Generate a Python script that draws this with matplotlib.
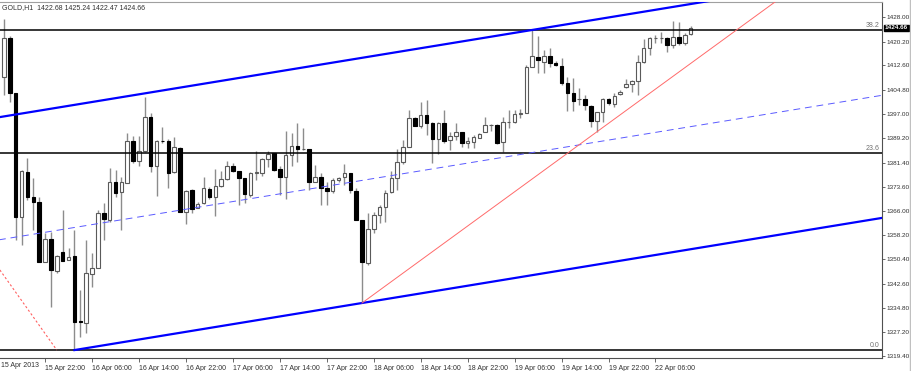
import matplotlib.pyplot as plt
from matplotlib.patches import Rectangle
from matplotlib.lines import Line2D

# GOLD H1 bars, 15 Apr 2013 15:00 .. 22 Apr 2013
opens = [1408.9, 1421.4, 1403.8, 1364.0, 1378.4, 1370.4, 1368.8, 1349.6, 1356.9, 1346.7,
         1352.7, 1350.2, 1351.4, 1330.6, 1329.9, 1345.7, 1347.6, 1365.3, 1363.0, 1375.2,
         1372.0, 1374.9, 1388.4, 1381.9, 1385.2, 1396.1, 1380.4, 1388.4, 1388.4, 1378.4,
         1386.1, 1365.6, 1372.7, 1366.9, 1368.5, 1373.0, 1370.4, 1373.9, 1376.2, 1380.4,
         1378.8, 1376.5, 1371.1, 1378.1, 1378.1, 1382.6, 1384.5, 1379.4, 1376.8, 1383.9,
         1386.8, 1385.8, 1385.8, 1375.2, 1376.8, 1373.3, 1372.3, 1375.9, 1376.8, 1378.1,
         1372.3, 1363.0, 1349.2, 1360.1, 1364.6, 1367.2, 1372.0, 1376.5, 1381.6, 1386.5,
         1395.8, 1393.2, 1396.7, 1394.2, 1389.0, 1394.2, 1388.7, 1390.0, 1391.3, 1387.7,
         1388.1, 1389.3, 1391.3, 1393.5, 1393.5, 1388.1, 1394.5, 1394.5, 1397.0, 1397.4,
         1412.1, 1415.3, 1413.7, 1415.6, 1413.4, 1412.4, 1407.0, 1403.8, 1401.9, 1401.9,
         1399.6, 1394.8, 1397.7, 1401.9, 1400.2, 1403.5, 1405.7, 1406.7, 1407.6, 1413.7,
         1418.2, 1421.4, 1421.4, 1421.4, 1419.2, 1421.7, 1419.8, 1422.68]
highs = [1427.5, 1422.1, 1403.8, 1379.1, 1382.9, 1376.5, 1370.4, 1358.8, 1359.2, 1351.8,
         1366.2, 1354.0, 1359.8, 1340.6, 1356.6, 1352.4, 1366.2, 1368.5, 1379.7, 1379.1,
         1376.8, 1390.9, 1390.0, 1390.0, 1402.5, 1397.4, 1388.7, 1392.9, 1389.0, 1389.7,
         1386.5, 1372.7, 1373.0, 1368.8, 1376.8, 1373.6, 1379.4, 1378.8, 1381.9, 1381.3,
         1378.8, 1376.5, 1378.4, 1385.2, 1382.9, 1385.2, 1384.5, 1380.4, 1391.6, 1390.9,
         1394.2, 1392.5, 1385.8, 1380.7, 1378.1, 1375.2, 1376.5, 1376.8, 1381.0, 1378.1,
         1373.3, 1363.0, 1365.3, 1365.6, 1367.8, 1372.7, 1378.8, 1385.8, 1388.7, 1398.3,
         1396.1, 1400.9, 1401.5, 1394.5, 1394.5, 1398.3, 1391.3, 1394.2, 1391.3, 1389.7,
         1390.3, 1390.9, 1396.1, 1393.8, 1393.8, 1396.1, 1398.3, 1398.3, 1398.6, 1412.8,
         1424.0, 1422.1, 1417.6, 1418.2, 1414.0, 1415.0, 1408.9, 1408.6, 1405.4, 1403.1,
         1399.9, 1397.7, 1402.2, 1402.2, 1403.8, 1404.7, 1408.3, 1407.9, 1416.0, 1421.1,
         1421.7, 1422.4, 1423.3, 1421.7, 1426.9, 1426.6, 1423.0, 1425.24]
lows = [1403.1, 1400.9, 1356.6, 1355.0, 1369.5, 1359.8, 1349.6, 1349.6, 1335.1, 1346.0,
        1349.9, 1350.2, 1321.3, 1325.5, 1326.7, 1341.5, 1347.6, 1356.6, 1362.4, 1370.4,
        1359.8, 1374.9, 1381.3, 1380.4, 1384.9, 1378.4, 1370.7, 1387.7, 1373.3, 1378.1,
        1365.6, 1361.7, 1365.3, 1366.9, 1368.2, 1369.8, 1364.3, 1373.6, 1375.9, 1378.4,
        1367.8, 1368.5, 1370.4, 1375.9, 1377.2, 1380.0, 1378.8, 1371.1, 1369.8, 1380.4,
        1381.6, 1385.5, 1372.7, 1375.2, 1367.8, 1367.8, 1371.7, 1375.2, 1374.3, 1371.7,
        1363.0, 1336.4, 1348.6, 1358.8, 1362.1, 1362.4, 1371.7, 1372.7, 1381.0, 1386.5,
        1393.2, 1392.5, 1390.3, 1381.3, 1384.2, 1387.7, 1385.5, 1388.7, 1386.5, 1386.1,
        1386.1, 1389.3, 1391.3, 1391.6, 1387.4, 1384.9, 1392.5, 1394.2, 1395.8, 1397.4,
        1412.1, 1410.2, 1410.2, 1412.1, 1412.4, 1406.3, 1398.0, 1398.0, 1399.9, 1398.3,
        1392.9, 1391.3, 1394.5, 1399.9, 1399.3, 1403.1, 1405.4, 1404.1, 1403.1, 1413.4,
        1416.0, 1419.8, 1419.8, 1416.9, 1418.2, 1419.2, 1419.2, 1422.47]
closes = [1421.4, 1403.8, 1364.0, 1378.8, 1370.4, 1368.8, 1349.6, 1356.9, 1347.0, 1351.4,
          1349.9, 1351.1, 1330.3, 1330.3, 1346.0, 1347.6, 1365.3, 1363.4, 1375.2, 1371.7,
          1375.2, 1388.4, 1381.9, 1385.2, 1396.1, 1380.4, 1388.4, 1388.3, 1378.1, 1386.5,
          1365.6, 1372.3, 1366.6, 1368.2, 1373.3, 1370.4, 1373.9, 1376.2, 1380.4, 1378.8,
          1376.5, 1371.4, 1378.1, 1378.4, 1382.6, 1384.2, 1379.1, 1376.8, 1383.9, 1386.8,
          1385.8, 1385.9, 1375.2, 1376.8, 1373.3, 1372.3, 1375.9, 1376.5, 1378.1, 1372.7,
          1363.0, 1349.6, 1360.1, 1364.6, 1367.2, 1371.7, 1376.5, 1381.6, 1386.5, 1395.8,
          1393.2, 1396.7, 1394.2, 1389.0, 1394.2, 1388.4, 1390.0, 1391.3, 1387.7, 1388.4,
          1389.7, 1390.6, 1393.5, 1393.6, 1387.7, 1394.5, 1394.6, 1397.0, 1397.4, 1412.1,
          1415.6, 1414.4, 1415.6, 1413.4, 1412.8, 1407.0, 1403.8, 1401.2, 1402.0, 1399.9,
          1394.8, 1397.7, 1401.9, 1400.6, 1402.8, 1404.1, 1406.7, 1407.6, 1413.7, 1418.2,
          1421.4, 1421.5, 1421.4, 1419.2, 1421.7, 1419.8, 1422.4, 1424.66]

# time axis labels (every 8 bars)
date_labels = ["15 Apr 22:00", "16 Apr 06:00", "16 Apr 14:00", "16 Apr 22:00",
               "17 Apr 06:00", "17 Apr 14:00", "17 Apr 22:00", "18 Apr 06:00",
               "18 Apr 14:00", "18 Apr 22:00", "19 Apr 06:00", "19 Apr 14:00",
               "19 Apr 22:00", "22 Apr 06:00"]
first_label = "15 Apr 2013"
price_ticks = [1428.00, 1420.20, 1412.60, 1404.80, 1397.00, 1389.20, 1381.40,
               1373.60, 1366.00, 1358.20, 1350.40, 1342.60, 1334.80, 1327.20, 1319.40]

# fibo levels
fib_levels = [1424.0, 1384.5, 1321.3]
fib_names = ["38.2", "23.6", "0.0"]
fib_diag_x = [-0.7, 9.0]
fib_diag_y = [1347.0, 1321.3]

# channel anchors (bar index, price)
chan_a = (12, 1321.3)
chan_b = (61, 1336.4)
chan_top = (90, 1424.0)
# red trendline anchors
trend_a = (61, 1336.4)
trend_b = (101, 1391.3)

W, H = 912, 371
fig = plt.figure(figsize=(W / 100, H / 100), dpi=100)
ax = fig.add_axes([0, 1 - 358 / H, 882 / W, 356 / H])
font = 'Liberation Sans'

n = len(opens)
xs = list(range(n))
for i in xs:
    o, h, l, c = opens[i], highs[i], lows[i], closes[i]
    ax.vlines(i, l, h, color='#8c8c8c', lw=1, zorder=2)
    lo, hi = min(o, c), max(o, c)
    if c >= o:
        r = Rectangle((i - 0.3, lo), 0.6, hi - lo, facecolor='white',
                      edgecolor='#5a5a5a', lw=0.8, zorder=3)
    else:
        r = Rectangle((i - 0.3, lo), 0.6, hi - lo, facecolor='black',
                      edgecolor='black', lw=0.8, zorder=3)
    ax.add_patch(r)

x0, x1 = -0.68, 149.6
ax.set_xlim(x0, x1)
ax.set_ylim(1318.76, 1432.97)

# fibo lines
for lv, nm in zip(fib_levels, fib_names):
    ax.axhline(lv, color='black', lw=1.1, zorder=4)
    ax.text(x1 - 0.4, lv + 0.4, nm, ha='right', va='bottom', fontsize=5,
            color='#707070', family=font, zorder=5)
ax.plot(fib_diag_x, fib_diag_y, color='#ff6060', lw=0.8, ls=(0, (2, 2)), zorder=4)

# channel
slope = (chan_b[1] - chan_a[1]) / (chan_b[0] - chan_a[0])
def lower(x):
    return chan_a[1] + slope * (x - chan_a[0])
off = chan_top[1] - lower(chan_top[0])
ax.plot([chan_a[0], 200], [lower(chan_a[0]), lower(200)], color='#0000ff', lw=1.6, zorder=6)
ax.plot([-5, 200], [lower(-5) + off, lower(200) + off], color='#0000ff', lw=1.6, zorder=6)
ax.plot([-5, 200], [lower(-5) + off / 2, lower(200) + off / 2], color='#5a5aff',
        lw=0.7, ls=(0, (7, 5)), zorder=6)

# red trendline
ts = (trend_b[1] - trend_a[1]) / (trend_b[0] - trend_a[0])
ax.plot([trend_a[0], 200], [trend_a[1], trend_a[1] + ts * (200 - trend_a[0])],
        color='#ff6a6a', lw=0.7, zorder=6)

# axes styling
ax.spines['left'].set_visible(False)
ax.spines['top'].set_color('#a0a0a0')
ax.spines['right'].set_color('#505050')
ax.spines['bottom'].set_color('#505050')
ax.yaxis.tick_right()
ax.set_yticks(price_ticks)
ax.set_yticklabels(['%.2f' % v for v in price_ticks])
ax.tick_params(axis='y', length=2, width=0.6, color='#505050', pad=1,
               labelsize=4.6, labelcolor='#303030')
xt = [7 + 8 * k for k in range(len(date_labels))]
ax.set_xticks(xt)
ax.set_xticklabels(date_labels)
ax.tick_params(axis='x', length=3, width=0.6, color='#505050', pad=2,
               labelsize=5, labelcolor='#303030')
for lab in ax.get_xticklabels() + ax.get_yticklabels():
    lab.set_family(font)
for lab in ax.get_xticklabels():
    lab.set_horizontalalignment('left')
ax.text(-0.5, -0.012, first_label, transform=ax.get_xaxis_transform(), ha='left',
        va='top', fontsize=5, color='#303030', family=font, clip_on=False)

# current price box
ax.annotate('%.2f' % closes[-1], xy=(1.0, closes[-1]),
            xycoords=('axes fraction', 'data'), xytext=(2, 0),
            textcoords='offset points', ha='left', va='center', fontsize=4.6,
            color='white', family=font, fontweight='bold',
            bbox=dict(boxstyle='square,pad=0.12', fc='black', ec='black'))

# header
fig.text(2 / W, 1 - 8 / H, 'GOLD,H1  %.2f %.2f %.2f %.2f' % (opens[-1], highs[-1], lows[-1], closes[-1]),
         ha='left', va='center', fontsize=5, color='#303030', family=font)
fig.add_artist(Line2D([910.5 / W, 910.5 / W], [0, 1], color='#c0c0c0', lw=1))

fig.savefig('out.png', dpi=100)
